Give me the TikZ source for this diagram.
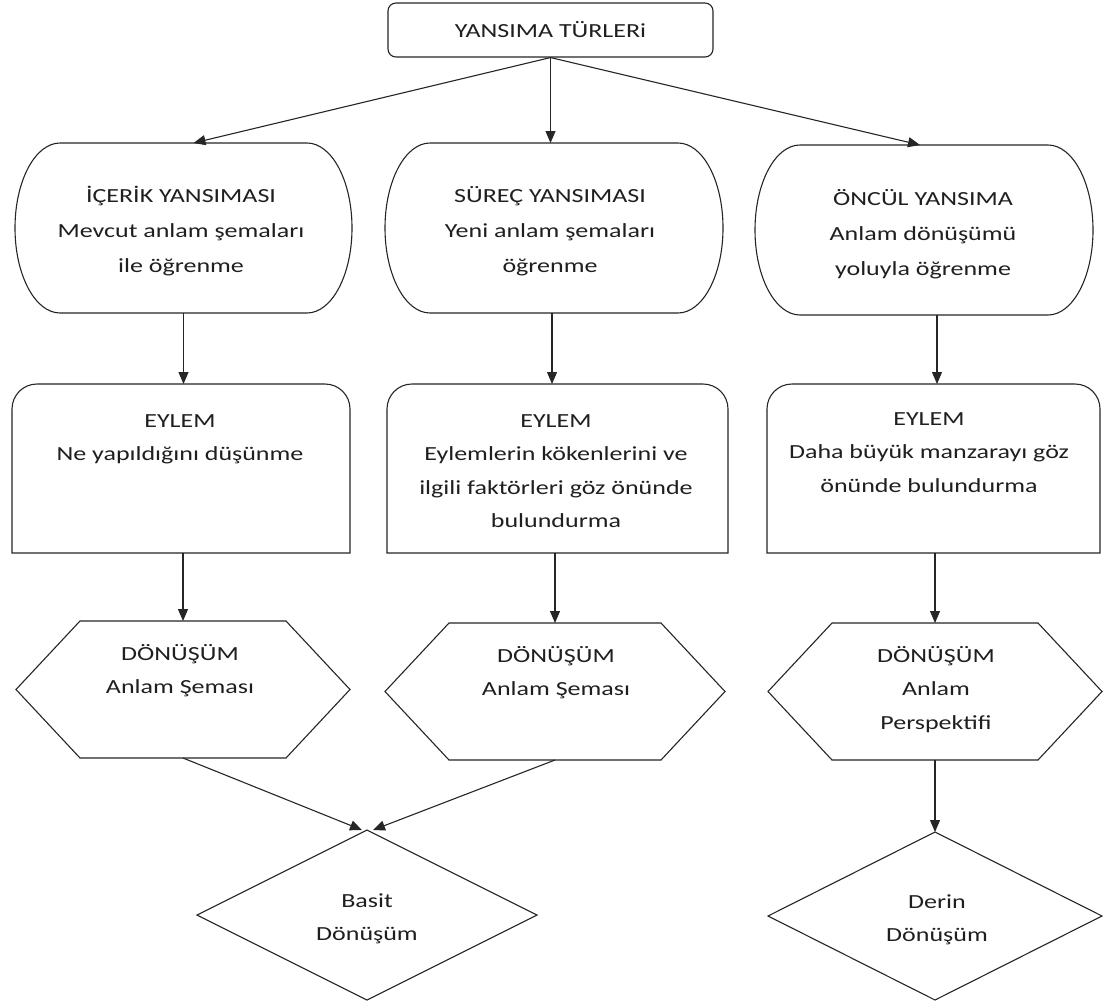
\documentclass[tikz,border=0pt]{standalone}
\usepackage{fontspec}
\setmainfont{Carlito}[FakeStretch=1.3]
\usetikzlibrary{arrows.meta}
\tikzset{
  outline/.style={line width=1.1pt, draw=black!85, line join=miter},
  frame/.style={draw=none, inner sep=0pt, outer sep=0pt},
  topbox/.style={draw=black!85, line width=1.1pt, rounded corners=8pt, inner sep=0pt,
    minimum width=325pt, minimum height=54pt, text=black!88,
    font=\fontsize{20pt}{33pt}\selectfont},
  txt/.style={inner sep=0pt, anchor=north, align=center, text=black!88,
    font=\fontsize{20pt}{33.5pt}\selectfont},
  txtwide/.style={txt, font=\fontsize{20pt}{35pt}\selectfont},
  arr/.style={line width=1.1pt, draw=black!85, -{Triangle[length=12pt,width=10pt]}}
}
\newcommand\stadiumoutline[1]{%
  \draw[outline] ([xshift=45pt]#1.north west) -- ([xshift=-45pt]#1.north east)
    arc[start angle=90,end angle=-90,x radius=45pt,y radius=85pt]
    -- ([xshift=45pt]#1.south west)
    arc[start angle=270,end angle=90,x radius=45pt,y radius=85pt] -- cycle;}
\newcommand\actoutline[1]{%
  \draw[outline] (#1.south west) -- ([yshift=-25pt]#1.north west)
    arc[start angle=180,end angle=90,radius=25pt]
    -- ([xshift=-25pt]#1.north east)
    arc[start angle=90,end angle=0,radius=25pt]
    -- (#1.south east) -- cycle;}
\newcommand\hexoutline[1]{%
  \draw[outline] (#1.west) -- ([xshift=64pt]#1.north west) -- ([xshift=-64pt]#1.north east)
    -- (#1.east) -- ([xshift=-64pt]#1.south east) -- ([xshift=64pt]#1.south west) -- cycle;}
\newcommand\diaoutline[1]{%
  \draw[outline] (#1.north) -- (#1.east) -- (#1.south) -- (#1.west) -- cycle;}
\begin{document}
\begin{tikzpicture}[x=1pt,y=1pt]
\useasboundingbox (0,0) rectangle (1103,-1002);
\fill[white] (0,0) rectangle (1103,-1002);

% top
\node[topbox] (top) at (550.5,-30) {YANSIMA TÜRLERi};

% row 2 frames
\node[frame, minimum width=337pt, minimum height=170pt] (c1) at (183.5,-228) {};
\node[frame, minimum width=338pt, minimum height=170pt] (c2) at (554,-228) {};
\node[frame, minimum width=338pt, minimum height=170pt] (c3) at (924,-230) {};
\stadiumoutline{c1}\stadiumoutline{c2}\stadiumoutline{c3}

% row 3 frames
\node[frame, minimum width=338pt, minimum height=169pt] (e1) at (181,-468.5) {};
\node[frame, minimum width=341pt, minimum height=169pt] (e2) at (557.5,-468.5) {};
\node[frame, minimum width=333pt, minimum height=169pt] (e3) at (933.5,-468.5) {};
\actoutline{e1}\actoutline{e2}\actoutline{e3}

% row 4 hexagons
\node[frame, minimum width=334pt, minimum height=137pt] (h1) at (183,-689.5) {};
\node[frame, minimum width=340pt, minimum height=137pt] (h2) at (555,-691.5) {};
\node[frame, minimum width=334pt, minimum height=137pt] (h3) at (935,-691.5) {};
\hexoutline{h1}\hexoutline{h2}\hexoutline{h3}

% row 5 diamonds
\node[frame, minimum width=340pt, minimum height=170pt] (b) at (367,-915) {};
\node[frame, minimum width=334pt, minimum height=168pt] (d) at (935,-916) {};
\diaoutline{b}\diaoutline{d}

% texts
\node[txtwide] (t1) at (181,-184) {\rule{0pt}{18pt}İÇERİK YANSIMASI\\Mevcut anlam şemaları\\ile öğrenme};
\node[txtwide] (t2) at (550,-184) {\rule{0pt}{18pt}SÜREÇ YANSIMASI\\Yeni anlam şemaları\\öğrenme};
\node[txtwide] (t3) at (923,-187) {\rule{0pt}{18pt}ÖNCÜL YANSIMA\\Anlam dönüşümü\\yoluyla öğrenme};

\node[txt] (u1) at (180,-409) {\rule{0pt}{18pt}EYLEM\\Ne yapıldığını düşünme};
\node[txt] (u2) at (556,-409) {\rule{0pt}{18pt}EYLEM\\Eylemlerin kökenlerini ve\\ilgili faktörleri göz önünde\\bulundurma};
\node[txt] (u3) at (929,-407) {\rule{0pt}{18pt}EYLEM\\Daha büyük manzarayı göz\\önünde bulundurma};

\node[txt] (v1) at (180,-642) {\rule{0pt}{18pt}DÖNÜŞÜM\\Anlam Şeması};
\node[txt] (v2) at (556,-644) {\rule{0pt}{18pt}DÖNÜŞÜM\\Anlam Şeması};
\node[txt] (v3) at (936,-644) {\rule{0pt}{18pt}DÖNÜŞÜM\\Anlam\\Perspektifi};

\node[txt] (w1) at (367,-889) {\rule{0pt}{18pt}Basit\\Dönüşüm};
\node[txt] (w2) at (937,-890) {\rule{0pt}{18pt}Derin\\Dönüşüm};

% connectors
\draw[arr] (top.south) -- ([xshift=10pt]c1.north);
\draw[arr] (top.south) -- (top.south |- c2.north);
\draw[arr] (top.south) -- ([xshift=-4pt]c3.north);

\draw[arr] (c1.south) -- (c1.south |- e1.north);
\coordinate (k2) at ([xshift=-2pt]c2.south);
\draw[arr] (k2) -- (k2 |- e2.north);
\coordinate (k3) at ([xshift=13pt]c3.south);
\draw[arr] (k3) -- (k3 |- e3.north);

\draw[arr] (h1.north |- e1.south) -- (h1.north);
\draw[arr] (h2.north |- e2.south) -- (h2.north);
\draw[arr] (h3.north |- e3.south) -- (h3.north);

\draw[arr] (h1.south) -- ([xshift=-5pt]b.north);
\draw[arr] (h2.south) -- ([xshift=6pt]b.north);
\draw[arr] (h3.south) -- (d.north);
\end{tikzpicture}
\end{document}
